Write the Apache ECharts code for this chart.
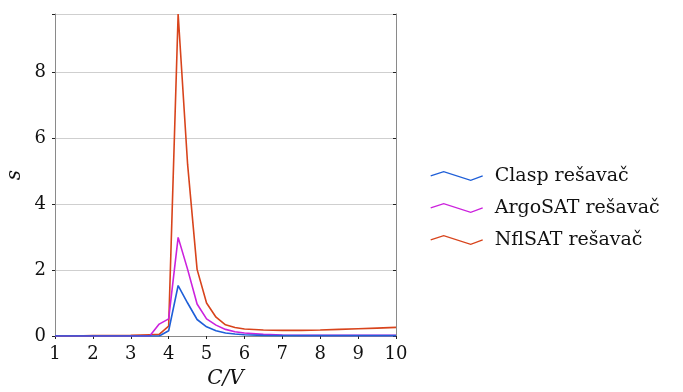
<!DOCTYPE html>
<html><head><meta charset="utf-8">
<script src="https://cdn.jsdelivr.net/npm/echarts@6/dist/echarts.min.js"></script>
<style>html,body{margin:0;padding:0;background:#fff}#c{width:683px;height:392px}</style>
</head><body><div id="c"></div>
<script>
const xs =        [1, 1.5, 2, 2.5, 3, 3.25, 3.5, 3.75, 4, 4.25, 4.5, 4.75, 5, 5.25, 5.5, 5.75, 6, 6.5, 7, 7.5, 8, 8.5, 9, 9.5, 10];
const claspVals = [0, 0, 0, 0, 0, 0, 0, 0, 0.16, 1.53, 1.0, 0.5, 0.28, 0.16, 0.09, 0.06, 0.04, 0.02, 0.01, 0.01, 0.01, 0.01, 0.01, 0.01, 0.01];
const argoVals =  [0, 0, 0, 0, 0, 0, 0, 0.36, 0.52, 2.99, 2.02, 0.97, 0.52, 0.33, 0.2, 0.13, 0.09, 0.05, 0.03, 0.02, 0.02, 0.02, 0.02, 0.02, 0.02];
const nflVals =   [0, 0, 0.01, 0.01, 0.02, 0.03, 0.04, 0.05, 0.3, 9.76, 5.2, 2.02, 1.0, 0.57, 0.34, 0.26, 0.21, 0.18, 0.17, 0.17, 0.18, 0.2, 0.22, 0.24, 0.26];
const seriesNames = ['Clasp rešavač', 'ArgoSAT rešavač', 'NflSAT rešavač'];
const colors = ['#1f5fd8', '#cc22dd', '#d8441c'];
const xTicks = [1, 2, 3, 4, 5, 6, 7, 8, 9, 10];
const yTicks = [0, 2, 4, 6, 8];

const font = 'DejaVu Serif';
const pair = v => xs.map((x, i) => [x, v[i]]);
const icon = 'path://M0,4.3 L13,0 L40,8.7 L52,4.3';
const chart = echarts.init(document.getElementById('c'));
const frame = '#8a8a8a';
chart.setOption({
  animation: false,
  grid: {left: 55, right: 287, top: 14, bottom: 56, show: false, containLabel: false, outerBoundsMode: 'none'},
  legend: {
    orient: 'vertical', left: 430, top: 166, itemGap: 12, padding: 0,
    itemWidth: 52, itemHeight: 9,
    textStyle: {fontFamily: font, fontSize: 19, color: '#111', lineHeight: 20, padding: [0, 0, 0, 7]},
    data: seriesNames.map((n, i) => ({name: n, icon: icon,
      itemStyle: {color: 'rgba(0,0,0,0)', borderColor: colors[i], borderWidth: 1.4}}))
  },
  xAxis: [{
    type: 'value', min: 1, max: 10, interval: 1, position: 'bottom',
    name: 'C/V', nameLocation: 'middle', nameGap: 33,
    nameTextStyle: {fontFamily: font, fontStyle: 'italic', fontSize: 20, color: '#111'},
    axisLine: {onZero: false, lineStyle: {color: frame, width: 1}},
    axisTick: {show: true, length: 3, inside: false, lineStyle: {color: '#222'}},
    axisLabel: {fontFamily: font, fontSize: 18, color: '#111', margin: 9},
    splitLine: {show: false}
  }, {
    type: 'value', min: 1, max: 10, interval: 1, position: 'top',
    axisLine: {show: true, lineStyle: {color: frame, width: 1}},
    axisTick: {show: true, inside: true, length: 3, lineStyle: {color: '#222'}},
    axisLabel: {show: false}, splitLine: {show: false}
  }],
  yAxis: [{
    type: 'value', min: 0, max: 9.76, interval: 2, position: 'left',
    name: 's', nameLocation: 'middle', nameGap: 30, nameRotate: 90,
    nameTextStyle: {fontFamily: font, fontStyle: 'italic', fontSize: 20, color: '#111'},
    axisLine: {show: true, onZero: false, lineStyle: {color: frame, width: 1}},
    axisTick: {show: true, length: 3, lineStyle: {color: '#222'}},
    axisLabel: {fontFamily: font, fontSize: 18, color: '#111', margin: 9,
      formatter: v => (yTicks.indexOf(v) >= 0 ? String(v) : '')},
    splitLine: {show: true, lineStyle: {color: '#cfcfcf', width: 1}}
  }, {
    type: 'value', min: 0, max: 9.76, interval: 2, position: 'right',
    axisLine: {show: true, lineStyle: {color: frame, width: 1}},
    axisTick: {show: true, inside: true, length: 3, lineStyle: {color: '#222'}},
    axisLabel: {show: false}, splitLine: {show: false}
  }],
  series: [claspVals, argoVals, nflVals].map((v, i) => ({
    name: seriesNames[i], type: 'line', data: pair(v), showSymbol: false, symbol: 'none',
    color: colors[i], lineStyle: {color: colors[i], width: 1.6},
    z: [5, 4, 3][i], clip: true
  }))
});
</script></body></html>
